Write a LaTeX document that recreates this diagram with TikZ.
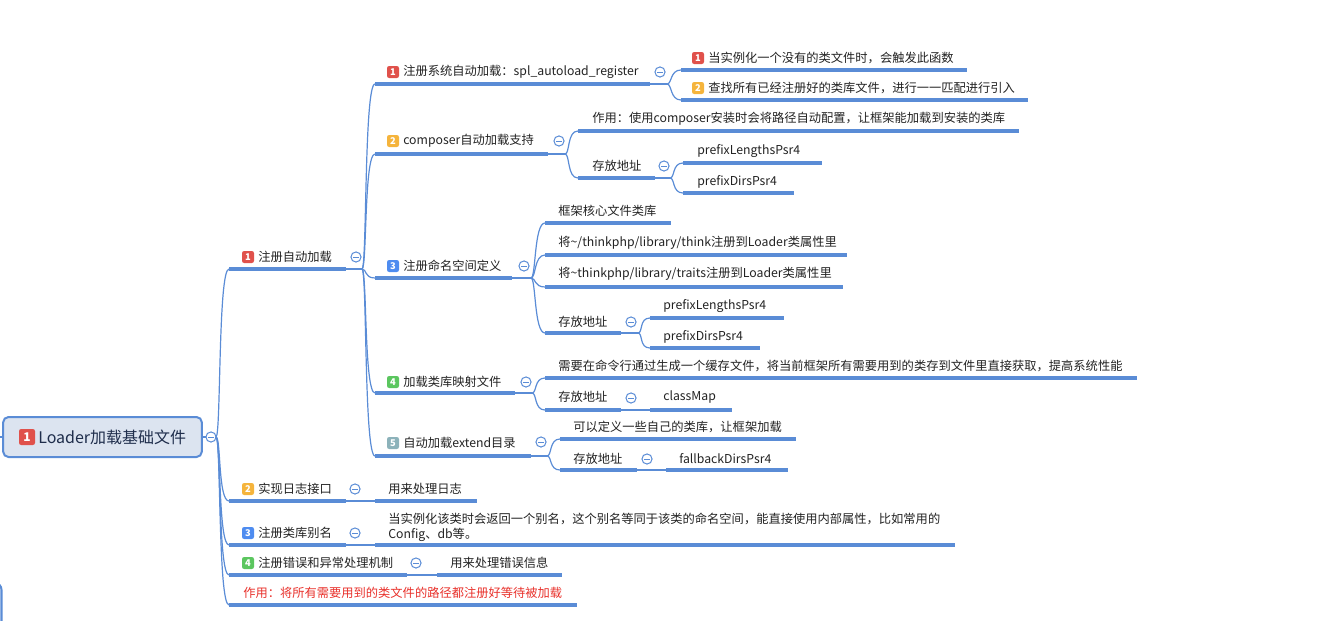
\documentclass[tikz,border=0pt]{standalone}
\usepackage{fontspec}
\setmainfont{Noto Sans CJK SC}
\definecolor{lineblue}{HTML}{5A8CD6}
\definecolor{rootfill}{HTML}{DCE4F0}
\definecolor{roottext}{HTML}{1F2E4C}
\definecolor{textblack}{HTML}{222222}
\definecolor{bred}{HTML}{E0514B}
\definecolor{borange}{HTML}{F5B43C}
\definecolor{bblue}{HTML}{4E8CF0}
\definecolor{bgreen}{HTML}{5BC65F}
\definecolor{bteal}{HTML}{8CB2BA}
\definecolor{redtext}{HTML}{E8302A}
\newcommand\mtopic[4]{\coordinate (#1-s) at (#2,#4); \coordinate (#1-e) at (#3,#4); \draw[uline] (#1-s) -- (#1-e);}
\newcommand\mconn[2]{\draw[conn] (#1) .. controls +(5,0) and +(-11,0) .. (#2);}
\begin{document}
\begin{tikzpicture}[x=0.75pt,y=-0.75pt,
  uline/.style={draw=lineblue,line width=2.3pt},
  conn/.style={draw=lineblue,line width=0.9pt},
  txt/.style={anchor=west,inner sep=0pt,font=\fontsize{9.2}{11.25}\selectfont,text=textblack},
  badge/.style={fill=#1,rounded corners=1.6pt,minimum size=9pt,inner sep=0pt,text=white,font=\fontsize{7}{7}\selectfont\bfseries},
  coll/.style={circle,draw=lineblue,line width=0.75pt,fill=white,minimum size=7.6pt,inner sep=0pt,
     path picture={\draw[lineblue,line width=0.6pt] ([xshift=-2pt]path picture bounding box.center) -- ([xshift=2pt]path picture bounding box.center);}},
  rootbox/.style={draw=lineblue,line width=1.5pt,fill=rootfill,rounded corners=4pt,minimum width=149pt,minimum height=30pt,inner sep=0pt}
]
\useasboundingbox (0,0) rectangle (1321,621);
\clip (0,0) rectangle (1321,621);

% off-picture pieces
\coordinate (offbox-a) at (-60,583);
\coordinate (offbox-b) at (1.5,583);
\coordinate (offbox-c) at (1.5,660);
\draw[draw=lineblue,line width=1.5pt,rounded corners=5pt] (offbox-a) -- (offbox-b) -- (offbox-c);

% root
\node[rootbox] (root) at (102.5,437) {};
\node[badge=bred,minimum size=12pt,font=\fontsize{9}{9}\selectfont\bfseries] (root-b) at (27,437) {1};
\node[anchor=west,inner sep=0pt,font=\fontsize{12}{14}\selectfont,text=roottext] (root-t) at (38,437) {Loader加载基础文件};
\coordinate (offL) at (0,437);
\draw[conn] (offL) -- (root.west);
\coordinate (R-f) at (216,437);
\draw[conn] (root.east) -- (R-f);
\node[coll] (root-c) at (211,437) {};

% ---------- level 1 ----------
\mtopic{A}{229}{346}{269}
\node[badge=bred] (A-b) at (248,257) {1};
\node[txt] (A-t) at (258,257) {注册自动加载};
\coordinate (A-f) at (362,269);
\draw[conn] (A-e) -- (A-f);
\node[coll] (A-c) at (356,257) {};

\mtopic{B}{229}{346}{501}
\node[badge=borange] (B-b) at (248,489) {2};
\node[txt] (B-t) at (258,489) {实现日志接口};
\mtopic{B1}{375}{477}{501}
\node[txt] (B1-t) at (388,489) {用来处理日志};
\draw[conn] (B-e) -- (B1-s);
\node[coll] (B-c) at (355,489) {};

\mtopic{C}{229}{346}{545}
\node[badge=bblue] (C-b) at (248,533) {3};
\node[txt] (C-t) at (258,533) {注册类库别名};
\mtopic{C1}{375}{955}{545}
\node[txt,align=left] (C1-t) at (388,527.5) {当实例化该类时会返回一个别名，这个别名等同于该类的命名空间，能直接使用内部属性，比如常用的\\Config、db等。};
\draw[conn] (C-e) -- (C1-s);
\node[coll] (C-c) at (355,533) {};

\mtopic{D}{229}{407}{575}
\node[badge=bgreen] (D-b) at (248,563) {4};
\node[txt] (D-t) at (258,563) {注册错误和异常处理机制};
\mtopic{D1}{437}{562}{575}
\node[txt] (D1-t) at (450,563) {用来处理错误信息};
\draw[conn] (D-e) -- (D1-s);
\node[coll] (D-c) at (416,563) {};

\mtopic{E}{229}{577}{605}
\node[txt,text=redtext] (E-t) at (243,593) {作用：将所有需要用到的类文件的路径都注册好等待被加载};

\mconn{R-f}{A-s}
\mconn{R-f}{B-s}
\mconn{R-f}{C-s}
\mconn{R-f}{D-s}
\mconn{R-f}{E-s}

% ---------- level 2 under A ----------
\mtopic{A1}{375}{650}{84}
\node[badge=bred] (A1-b) at (393,72) {1};
\node[txt] (A1-t) at (403,72) {注册系统自动加载：spl\_autoload\_register};
\coordinate (A1-f) at (667,84);
\draw[conn] (A1-e) -- (A1-f);
\node[coll] (A1-c) at (660,72) {};

\mtopic{A2}{375}{548}{154}
\node[badge=borange] (A2-b) at (393,141) {2};
\node[txt] (A2-t) at (403,141) {composer自动加载支持};
\coordinate (A2-f) at (565,154);
\draw[conn] (A2-e) -- (A2-f);
\node[coll] (A2-c) at (559,141) {};

\mtopic{A3}{375}{512}{278}
\node[badge=bblue] (A3-b) at (393,266) {3};
\node[txt] (A3-t) at (403,266) {注册命名空间定义};
\coordinate (A3-f) at (531,278);
\draw[conn] (A3-e) -- (A3-f);
\node[coll] (A3-c) at (524,266) {};

\mtopic{A4}{375}{515}{393}
\node[badge=bgreen] (A4-b) at (393,382) {4};
\node[txt] (A4-t) at (403,382) {加载类库映射文件};
\coordinate (A4-f) at (532,393);
\draw[conn] (A4-e) -- (A4-f);
\node[coll] (A4-c) at (526,382) {};

\mtopic{A5}{375}{531}{456}
\node[badge=bteal] (A5-b) at (393,443) {5};
\node[txt] (A5-t) at (403,443) {自动加载extend目录};
\coordinate (A5-f) at (547,456);
\draw[conn] (A5-e) -- (A5-f);
\node[coll] (A5-c) at (541,442) {};

\mconn{A-f}{A1-s}
\mconn{A-f}{A2-s}
\mconn{A-f}{A3-s}
\mconn{A-f}{A4-s}
\mconn{A-f}{A5-s}

% ---------- under A1 ----------
\mtopic{A11}{681}{967}{70}
\node[badge=bred] (A11-b) at (698,58) {1};
\node[txt] (A11-t) at (708,58) {当实例化一个没有的类文件时，会触发此函数};
\mtopic{A12}{681}{1028}{100}
\node[badge=borange] (A12-b) at (698,88) {2};
\node[txt] (A12-t) at (708,88) {查找所有已经注册好的类库文件，进行一一匹配进行引入};
\mconn{A1-f}{A11-s}
\mconn{A1-f}{A12-s}

% ---------- under A2 ----------
\mtopic{A21}{578}{1019}{131}
\node[txt] (A21-t) at (592,119) {作用：使用composer安装时会将路径自动配置，让框架能加载到安装的类库};
\mtopic{A22}{578}{655}{178}
\node[txt] (A22-t) at (592,166) {存放地址};
\coordinate (A22-f) at (670,178);
\draw[conn] (A22-e) -- (A22-f);
\node[coll] (A22-c) at (664,166) {};
\mconn{A2-f}{A21-s}
\mconn{A2-f}{A22-s}
\mtopic{A221}{683}{822}{163}
\node[txt] (A221-t) at (697,151) {prefixLengthsPsr4};
\mtopic{A222}{683}{794}{193}
\node[txt] (A222-t) at (697,182) {prefixDirsPsr4};
\mconn{A22-f}{A221-s}
\mconn{A22-f}{A222-s}

% ---------- under A3 ----------
\mtopic{A31}{545}{671}{223}
\node[txt] (A31-t) at (558,211) {框架核心文件类库};
\mtopic{A32}{545}{847}{255}
\node[txt] (A32-t) at (558,243) {将\textasciitilde/thinkphp/library/think注册到Loader类属性里};
\mtopic{A33}{545}{843}{287}
\node[txt] (A33-t) at (558,274) {将\textasciitilde thinkphp/library/traits注册到Loader类属性里};
\mtopic{A34}{545}{621}{333}
\node[txt] (A34-t) at (558,322) {存放地址};
\coordinate (A34-f) at (638,333);
\draw[conn] (A34-e) -- (A34-f);
\node[coll] (A34-c) at (631,322) {};
\mconn{A3-f}{A31-s}
\mconn{A3-f}{A32-s}
\mconn{A3-f}{A33-s}
\mconn{A3-f}{A34-s}
\mtopic{A341}{650}{784}{318}
\node[txt] (A341-t) at (663,306) {prefixLengthsPsr4};
\mtopic{A342}{650}{760}{348}
\node[txt] (A342-t) at (663,337) {prefixDirsPsr4};
\mconn{A34-f}{A341-s}
\mconn{A34-f}{A342-s}

% ---------- under A4 ----------
\mtopic{A41}{545}{1137}{378}
\node[txt] (A41-t) at (558,366) {需要在命令行通过生成一个缓存文件，将当前框架所有需要用到的类存到文件里直接获取，提高系统性能};
\mtopic{A42}{545}{621}{410}
\node[txt] (A42-t) at (558,397) {存放地址};
\mtopic{A421}{650}{732}{410}
\node[txt] (A421-t) at (663,397) {classMap};
\draw[conn] (A42-e) -- (A421-s);
\node[coll] (A42-c) at (631,398) {};
\mconn{A4-f}{A41-s}
\mconn{A4-f}{A42-s}

% ---------- under A5 ----------
\mtopic{A51}{560}{796}{439}
\node[txt] (A51-t) at (573,427) {可以定义一些自己的类库，让框架加载};
\mtopic{A52}{560}{637}{470}
\node[txt] (A52-t) at (573,459) {存放地址};
\mtopic{A521}{666}{788}{470}
\node[txt] (A521-t) at (679,459) {fallbackDirsPsr4};
\draw[conn] (A52-e) -- (A521-s);
\node[coll] (A52-c) at (647,459) {};
\mconn{A5-f}{A51-s}
\mconn{A5-f}{A52-s}
\end{tikzpicture}
\end{document}
